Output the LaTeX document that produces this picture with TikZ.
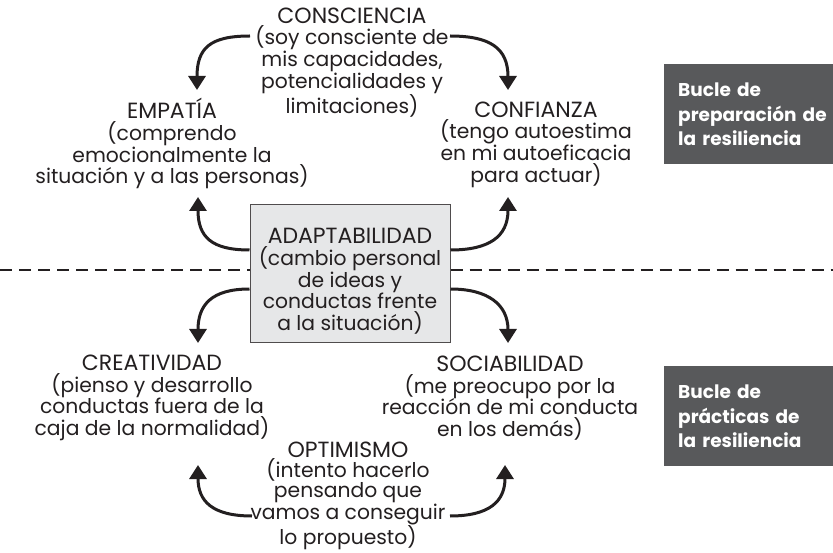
\documentclass[tikz,border=0pt]{standalone}
\usepackage{fontspec}
\setmainfont{Poppins}
\usetikzlibrary{arrows.meta,calc}
\definecolor{ink}{HTML}{231F20}
\definecolor{darkg}{HTML}{58595B}
\definecolor{lightg}{HTML}{E6E7E8}
\newcommand\topstrt{\rule{0pt}{20pt}}
\newcommand\botstrt{\rule[-6pt]{0pt}{6pt}}
\newcommand\capsz[1]{{\fontsize{22}{21.8}\selectfont #1}}
\begin{document}
\begin{tikzpicture}[x=1pt,y=-1pt,
  txt/.style={align=center, font=\fontsize{20.3}{21.8}\selectfont, text=ink, inner sep=0pt, anchor=north},
  adapbox/.style={align=center, font=\fontsize{20.3}{21.6}\selectfont, text=ink, inner sep=0pt, draw=ink!80, line width=1pt, fill=lightg, minimum width=200pt, minimum height=138pt},
  arr/.style={line width=3pt, draw=ink, -{Triangle[width=17pt,length=14pt]}},
  dashline/.style={line width=2.5pt, draw=ink, dash pattern=on 12pt off 7pt},
  darkbox/.style={fill=darkg, text=white, font=\bfseries\fontsize{18.5}{24.5}\selectfont, align=left, anchor=north west, minimum width=169pt, minimum height=100pt, text width=200pt, inner xsep=14pt, inner ysep=0pt}]
\useasboundingbox (0,0) rectangle (833,553);
\fill[white] (0,0) rectangle (833,553);

\node[txt] (cons) at (352,3) {\topstrt\capsz{CONSCIENCIA}\\(soy consciente de\\mis capacidades,\\potencialidades y\\limitaciones)};
\node[txt] (emp) at (172,98) {\topstrt\capsz{EMPATÍA}\\(comprendo\\emocionalmente la\\situación y a las personas)};
\node[txt] (conf) at (536,97) {\topstrt\capsz{CONFIANZA}\\(tengo autoestima\\en mi autoeficacia\\para actuar)};
\node[adapbox] (adap) at (350,274) {\rule{0pt}{30pt}\capsz{ADAPTABILIDAD}\\(cambio personal\\de ideas y\\conductas frente\\a la situación)\rule[-2pt]{0pt}{2pt}};
\node[txt] (crea) at (152,350) {\topstrt\capsz{CREATIVIDAD}\\(pienso y desarrollo\\conductas fuera de la\\caja de la normalidad)};
\node[txt] (soc) at (510,351) {\topstrt\capsz{SOCIABILIDAD}\\(me preocupo por la\\reacción de mi conducta\\en los demás)};
\node[txt, font=\fontsize{20.3}{20.2}\selectfont] (opt) at (348,437) {\topstrt\capsz{OPTIMISMO}\\(intento hacerlo\\pensando que\\vamos a conseguir\\lo propuesto)};

\node[darkbox] (b1) at (664,64) {\topstrt Bucle de\\preparación de\\la resiliencia\botstrt};
\node[darkbox] (b2) at (664,366) {\topstrt Bucle de\\prácticas de\\la resiliencia\botstrt};

% dashed separator
\coordinate (L) at (0,270);
\coordinate (R) at (833,270);
\draw[dashline] (L) -- (L -| adap.west);
\draw[dashline] (adap.east |- R) -- (R);

% arrows
\draw[arr] ([xshift=-102pt,yshift=-33pt]cons.north) .. controls +(-40,0) and +(0,-42) .. ([xshift=25pt,yshift=8pt]emp.north);
\draw[arr] ([xshift=98pt,yshift=-33pt]cons.north) .. controls +(40,0) and +(0,-42) .. ([xshift=-28pt,yshift=7pt]conf.north);
\draw[arr] ([yshift=24pt]adap.west) .. controls +(-38,0) and +(0,40) .. ([xshift=26pt,yshift=-99pt]emp.north);
\draw[arr] ([yshift=24pt]adap.east) .. controls +(38,0) and +(0,40) .. ([xshift=-28pt,yshift=-100pt]conf.north);
\draw[arr] ([yshift=-15pt]adap.west) .. controls +(-38,0) and +(0,-38) .. ([xshift=46pt,yshift=7pt]crea.north);
\draw[arr] ([yshift=-15pt]adap.east) .. controls +(38,0) and +(0,-38) .. ([xshift=-2pt,yshift=8pt]soc.north);
\draw[arr] ([xshift=-96pt,yshift=-79pt]opt.north) .. controls +(-40,0) and +(0,36) .. ([xshift=46pt,yshift=-115pt]crea.north);
\draw[arr] ([xshift=102pt,yshift=-79pt]opt.north) .. controls +(40,0) and +(0,36) .. ([xshift=-5pt,yshift=-114pt]soc.north);
\end{tikzpicture}
\end{document}
